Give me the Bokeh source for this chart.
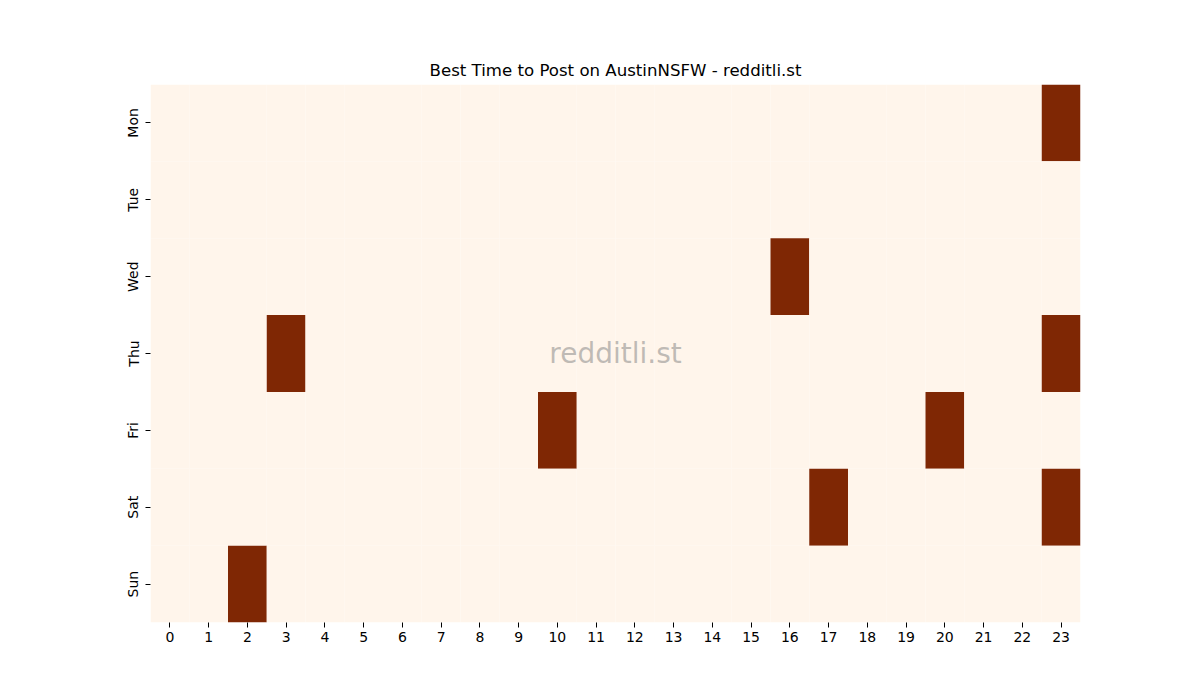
from bokeh.plotting import figure
from bokeh.models import ColumnDataSource, LinearColorMapper, FixedTicker, Label
from bokeh.embed import file_html
from bokeh.resources import INLINE

days = ["Mon", "Tue", "Wed", "Thu", "Fri", "Sat", "Sun"]
hours = list(range(24))

# 1 = best hour to post, 0 = not
mon = [0, 0, 0, 0, 0, 0, 0, 0, 0, 0, 0, 0, 0, 0, 0, 0, 0, 0, 0, 0, 0, 0, 0, 1]
tue = [0, 0, 0, 0, 0, 0, 0, 0, 0, 0, 0, 0, 0, 0, 0, 0, 0, 0, 0, 0, 0, 0, 0, 0]
wed = [0, 0, 0, 0, 0, 0, 0, 0, 0, 0, 0, 0, 0, 0, 0, 0, 1, 0, 0, 0, 0, 0, 0, 0]
thu = [0, 0, 0, 1, 0, 0, 0, 0, 0, 0, 0, 0, 0, 0, 0, 0, 0, 0, 0, 0, 0, 0, 0, 1]
fri = [0, 0, 0, 0, 0, 0, 0, 0, 0, 0, 1, 0, 0, 0, 0, 0, 0, 0, 0, 0, 1, 0, 0, 0]
sat = [0, 0, 0, 0, 0, 0, 0, 0, 0, 0, 0, 0, 0, 0, 0, 0, 0, 1, 0, 0, 0, 0, 0, 1]
sun = [0, 0, 1, 0, 0, 0, 0, 0, 0, 0, 0, 0, 0, 0, 0, 0, 0, 0, 0, 0, 0, 0, 0, 0]
grid = [mon, tue, wed, thu, fri, sat, sun]

xs, ys, vals = [], [], []
for i, row in enumerate(grid):
    for h in hours:
        xs.append(h)
        ys.append(len(days) - 1 - i)
        vals.append(row[h])

source = ColumnDataSource(data=dict(x=xs, y=ys, v=vals))
mapper = LinearColorMapper(palette=["#fff5eb", "#7f2704"], low=0, high=1)

p = figure(width=1184, height=684, output_backend="svg", toolbar_location=None,
           x_range=(-0.5, 23.5), y_range=(-0.5, 6.5),
           title="Best Time to Post on AustinNSFW - redditli.st",
           min_border_left=150, min_border_right=104,
           min_border_top=84, min_border_bottom=62)

p.rect("x", "y", width=1, height=1, source=source,
       fill_color={"field": "v", "transform": mapper}, line_color=None)

p.add_layout(Label(x=11.5, y=3, text="redditli.st", text_align="center",
                   text_baseline="middle", text_color="gray", text_alpha=0.5,
                   text_font="DejaVu Sans", text_font_size="28px"))

p.title.align = "center"
p.title.text_font = "DejaVu Sans"
p.title.text_font_size = "16.6px"
p.title.text_font_style = "normal"
p.title.text_color = "black"

p.xgrid.grid_line_color = None
p.ygrid.grid_line_color = None
p.outline_line_color = None
p.background_fill_color = "white"

p.xaxis.ticker = FixedTicker(ticks=hours)
p.yaxis.ticker = FixedTicker(ticks=list(range(len(days))))
p.yaxis.major_label_overrides = {len(days) - 1 - i: d for i, d in enumerate(days)}
p.yaxis.major_label_orientation = "vertical"

for ax in (p.xaxis, p.yaxis):
    ax.axis_line_color = None
    ax.minor_tick_line_color = None
    ax.major_tick_in = 0
    ax.major_tick_out = 5
    ax.major_tick_line_color = "black"
    ax.major_label_text_font = "DejaVu Sans"
    ax.major_label_text_font_size = "14px"
    ax.major_label_text_color = "black"
    ax.major_label_standoff = 4

open("out.html", "w").write(file_html(p, INLINE))
